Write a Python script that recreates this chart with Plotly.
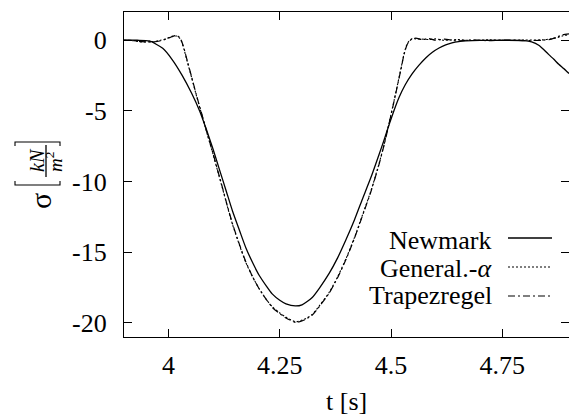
import plotly.graph_objects as go

# ---------------- data ----------------
t_newmark = [3.90, 3.93, 3.957, 3.987, 4.009, 4.031, 4.052, 4.07, 4.085, 4.10, 4.114, 4.13,
             4.144, 4.16, 4.174, 4.19, 4.204, 4.22, 4.233, 4.25, 4.264, 4.285, 4.30, 4.323,
             4.34, 4.361, 4.38, 4.399, 4.418, 4.435, 4.455, 4.473, 4.485, 4.496, 4.507, 4.518,
             4.532, 4.547, 4.562, 4.578, 4.593, 4.608, 4.623, 4.637, 4.652, 4.668, 4.70, 4.75,
             4.80, 4.816, 4.832, 4.843, 4.854, 4.866, 4.877, 4.888, 4.90]
sigma_newmark = [0.0, 0.0, -0.05, -0.57, -1.4, -2.5, -3.75, -5.0, -6.3, -7.7, -9.1, -10.7,
                 -12.1, -13.5, -14.7, -15.8, -16.65, -17.4, -17.95, -18.4, -18.65, -18.8, -18.72, -18.2,
                 -17.5, -16.5, -15.4, -14.1, -12.7, -11.3, -9.7, -8.1, -7.0, -5.95, -4.95, -4.05,
                 -3.15, -2.4, -1.8, -1.25, -0.85, -0.55, -0.33, -0.19, -0.1, -0.05, -0.01, 0.0,
                 -0.02, -0.12, -0.35, -0.65, -1.0, -1.35, -1.7, -2.0, -2.35]

t_genalpha = [3.90, 3.92, 3.94, 3.964, 3.98, 3.996, 4.008, 4.018, 4.025, 4.03, 4.035, 4.04,
              4.052, 4.063, 4.076, 4.088, 4.10, 4.11, 4.121, 4.133, 4.144, 4.16, 4.174, 4.19,
              4.204, 4.22, 4.233, 4.25, 4.264, 4.287, 4.305, 4.323, 4.34, 4.361, 4.38, 4.399,
              4.418, 4.435, 4.455, 4.473, 4.485, 4.496, 4.507, 4.518, 4.524, 4.529, 4.535, 4.54,
              4.548, 4.556, 4.57, 4.585, 4.60, 4.62, 4.65, 4.68, 4.72, 4.76, 4.80, 4.84,
              4.86, 4.875, 4.885, 4.90]
sigma_genalpha = [0.0, -0.03, -0.12, -0.1, -0.02, 0.12, 0.28, 0.3, 0.15, -0.15, -0.65, -1.25,
                  -2.65, -3.95, -5.4, -6.75, -8.05, -9.2, -10.45, -11.85, -13.05, -14.55, -15.75, -16.8,
                  -17.6, -18.35, -18.85, -19.3, -19.6, -19.92, -19.75, -19.4, -18.75, -17.85, -16.75, -15.45,
                  -13.95, -12.45, -10.65, -8.75, -7.3, -5.8, -4.25, -2.65, -1.75, -1.0, -0.35, -0.08,
                  0.12, 0.1, 0.08, 0.05, 0.1, 0.0, 0.05, -0.02, 0.03, -0.02, 0.02, 0.03,
                  0.1, 0.2, 0.3, 0.4]

t_trapez = [3.90, 3.92, 3.94, 3.964, 3.98, 3.996, 4.008, 4.018, 4.025, 4.03, 4.035, 4.04,
            4.052, 4.063, 4.076, 4.088, 4.10, 4.11, 4.121, 4.133, 4.144, 4.16, 4.174, 4.19,
            4.204, 4.22, 4.233, 4.25, 4.264, 4.287, 4.305, 4.323, 4.34, 4.361, 4.38, 4.399,
            4.418, 4.435, 4.455, 4.473, 4.485, 4.496, 4.507, 4.518, 4.524, 4.529, 4.535, 4.54,
            4.548, 4.556, 4.57, 4.585, 4.60, 4.62, 4.65, 4.68, 4.72, 4.76, 4.80, 4.84,
            4.86, 4.875, 4.885, 4.90]
sigma_trapez = [0.0, -0.02, -0.1, -0.12, -0.05, 0.1, 0.25, 0.35, 0.2, -0.1, -0.6, -1.2,
                -2.6, -3.9, -5.35, -6.7, -8.0, -9.15, -10.4, -11.8, -13.0, -14.5, -15.7, -16.8,
                -17.6, -18.35, -18.9, -19.35, -19.65, -19.97, -19.8, -19.45, -18.8, -17.9, -16.8, -15.5,
                -14.0, -12.5, -10.7, -8.8, -7.35, -5.85, -4.3, -2.7, -1.8, -1.05, -0.4, -0.1,
                0.1, 0.15, 0.05, 0.12, 0.0, 0.08, -0.05, 0.03, -0.03, 0.02, -0.02, 0.0,
                0.08, 0.25, 0.38, 0.45]

x_tickvals = [4, 4.25, 4.5, 4.75]
x_ticktext = ["4", "4.25", "4.5", "4.75"]
y_tickvals = [0, -5, -10, -15, -20]
y_ticktext = ["0", "-5", "-10", "-15", "-20"]
series_names = ["Newmark", "General.-<i>α</i>", "Trapezregel"]

# ---------------- layout helpers ----------------
W, H = 569, 418
L, R, T, B = 124, 569, 12, 337
FONT = "Liberation Serif"
FS = 26


def px_x(p):
    return (p - L) / (R - L)


def px_y(p):
    return (B - p) / (B - T)


fig = go.Figure()
fig.add_trace(go.Scatter(x=t_newmark, y=sigma_newmark, mode="lines", name="Newmark",
                         line=dict(color="black", width=1.3, shape="spline", smoothing=0.6)))
fig.add_trace(go.Scatter(x=t_genalpha, y=sigma_genalpha, mode="lines", name="General.-α",
                         line=dict(color="black", width=1.1, dash="2px,2px", shape="spline", smoothing=0.6)))
fig.add_trace(go.Scatter(x=t_trapez, y=sigma_trapez, mode="lines", name="Trapezregel",
                         line=dict(color="black", width=1.2, dash="7px,3px,2px,3px", shape="spline", smoothing=0.6)))

fig.update_layout(
    width=W, height=H,
    margin=dict(l=L, r=W - R, t=T, b=H - B, pad=0),
    paper_bgcolor="white", plot_bgcolor="white",
    showlegend=False,
    font=dict(family=FONT, size=FS, color="black"),
    xaxis=dict(range=[3.9, 4.9], tickvals=x_tickvals, ticktext=x_ticktext,
               ticks="inside", ticklen=8, tickwidth=1.2, tickcolor="black",
               showline=True, linecolor="black", linewidth=1.3, mirror="ticks",
               showgrid=False, zeroline=False, ticklabelstandoff=5,
               tickfont=dict(family=FONT, size=FS, color="black")),
    yaxis=dict(range=[-21, 2], tickvals=y_tickvals, ticktext=y_ticktext,
               ticks="inside", ticklen=8, tickwidth=1.2, tickcolor="black",
               showline=True, linecolor="black", linewidth=1.3, mirror="ticks",
               showgrid=False, zeroline=False, ticklabelstandoff=11,
               tickfont=dict(family=FONT, size=FS, color="black")),
)

ann = []
# x-axis title
ann.append(dict(text="t [s]", x=px_x(346.5), y=px_y(401), xref="paper", yref="paper",
                xanchor="center", yanchor="middle", showarrow=False,
                font=dict(family=FONT, size=FS, color="black")))
# y-axis title: sigma + bracketed fraction
ann.append(dict(text="σ", x=px_x(40), y=px_y(201), xref="paper", yref="paper",
                xanchor="center", yanchor="middle", showarrow=False, textangle=-90,
                font=dict(family=FONT, size=30, color="black")))
ann.append(dict(text="<i>kN</i>", x=px_x(37), y=px_y(160), xref="paper", yref="paper",
                xanchor="center", yanchor="middle", showarrow=False, textangle=-90,
                font=dict(family=FONT, size=20, color="black")))
ann.append(dict(text="<i>m</i><sup>2</sup>", x=px_x(54), y=px_y(162), xref="paper", yref="paper",
                xanchor="center", yanchor="middle", showarrow=False, textangle=-90,
                font=dict(family=FONT, size=19, color="black")))

# legend texts
legend_y = [240, 268, 295]
for name, yy in zip(series_names, legend_y):
    ann.append(dict(text=name, x=px_x(494), y=px_y(yy), xref="paper", yref="paper",
                    xanchor="right", yanchor="middle", showarrow=False,
                    font=dict(family=FONT, size=FS, color="black")))

shapes = []
# fraction bar
shapes.append(dict(type="line", xref="paper", yref="paper",
                   x0=px_x(46), x1=px_x(46), y0=px_y(145), y1=px_y(177),
                   line=dict(color="black", width=1.3)))
# brackets
shapes.append(dict(type="path", xref="paper", yref="paper",
                   path="M {a},{b} L {a},{c} L {d},{c} L {d},{b}".format(
                       a=px_x(15), b=px_y(181), c=px_y(185), d=px_x(60)),
                   line=dict(color="black", width=1.1)))
shapes.append(dict(type="path", xref="paper", yref="paper",
                   path="M {a},{b} L {a},{c} L {d},{c} L {d},{b}".format(
                       a=px_x(15), b=px_y(146), c=px_y(142), d=px_x(60)),
                   line=dict(color="black", width=1.1)))
# legend samples
legend_dash = ["solid", "2px,2px", "7px,3px,2px,3px"]
legend_w = [1.3, 1.1, 1.2]
legend_line_y = [238, 267, 296]
for d, w, yy in zip(legend_dash, legend_w, legend_line_y):
    shapes.append(dict(type="line", xref="paper", yref="paper",
                       x0=px_x(508), x1=px_x(552), y0=px_y(yy), y1=px_y(yy),
                       line=dict(color="black", width=w, dash=d)))

fig.update_layout(annotations=ann, shapes=shapes)
fig.write_html("out.html")
